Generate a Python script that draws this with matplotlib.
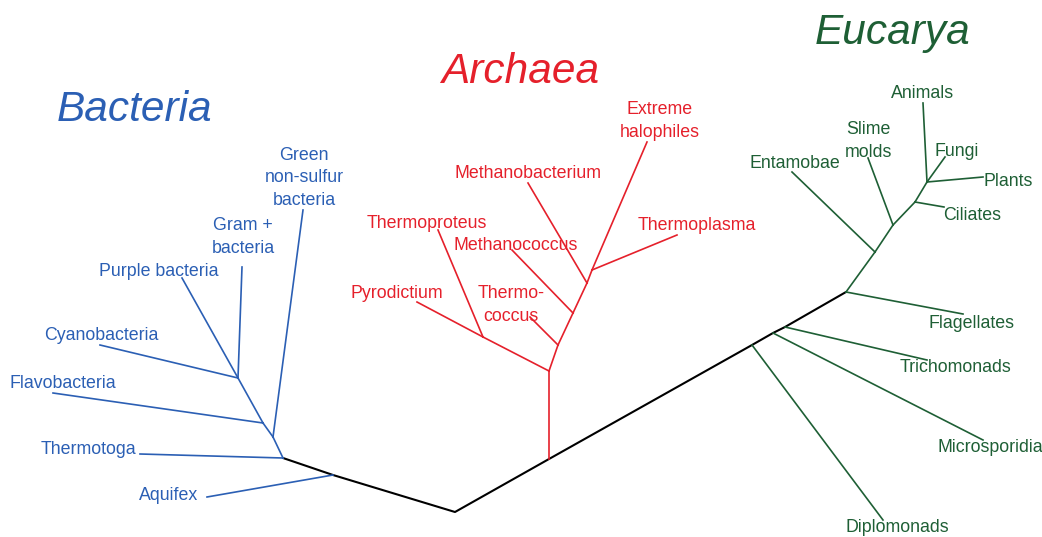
import matplotlib.pyplot as plt

BLUE = '#2b5fb4'
RED = '#e5202b'
GREEN = '#1e5f35'

# backbone (black): bacteria node -> aquifex fork -> root -> archaea node -> eucarya nodes
backbone_x = [283, 333, 455, 549, 752, 773, 785, 846]
backbone_y = [458, 475, 512, 459, 345, 333, 327, 292]

# branches: (x0, y0, x1, y1)
bacteria_edges = [
    (283, 458, 140, 454),   # Thermotoga
    (333, 475, 207, 497),   # Aquifex
    (283, 458, 273, 437),
    (273, 437, 303, 210),   # Green non-sulfur
    (273, 437, 263, 423),
    (263, 423, 53, 393),    # Flavobacteria
    (263, 423, 238, 378),
    (238, 378, 100, 345),   # Cyanobacteria
    (238, 378, 242, 267),   # Gram +
    (238, 378, 182, 278),   # Purple
]
archaea_edges = [
    (549, 459, 549, 371),
    (549, 371, 483, 337),
    (483, 337, 417, 302),   # Pyrodictium
    (483, 337, 438, 230),   # Thermoproteus
    (549, 371, 558, 345),
    (558, 345, 530, 317),   # Thermococcus
    (558, 345, 573, 313),
    (573, 313, 512, 250),   # Methanococcus
    (573, 313, 587, 283),
    (587, 283, 528, 183),   # Methanobacterium
    (587, 283, 592, 270),
    (592, 270, 677, 235),   # Thermoplasma
    (592, 270, 647, 142),   # Extreme halophiles
]
eucarya_edges = [
    (752, 345, 883, 520),   # Diplomonads
    (773, 333, 983, 440),   # Microsporidia
    (785, 327, 927, 360),   # Trichomonads
    (846, 292, 963, 314),   # Flagellates
    (846, 292, 875, 252),
    (875, 252, 792, 172),   # Entamoebae
    (875, 252, 893, 225),
    (893, 225, 868, 158),   # Slime molds
    (893, 225, 915, 202),
    (915, 202, 944, 207),   # Ciliates
    (915, 202, 927, 182),
    (927, 182, 923, 103),   # Animals
    (927, 182, 945, 157),   # Fungi
    (927, 182, 983, 177),   # Plants
]

bacteria_labels = [
    ('Thermotoga', 88, 449), ('Aquifex', 169, 496), ('Flavobacteria', 63, 383),
    ('Cyanobacteria', 101, 335), ('Purple bacteria', 159, 272),
    ('Gram +\nbacteria', 243, 237), ('Green\nnon-sulfur\nbacteria', 304, 178),
]
archaea_labels = [
    ('Pyrodictium', 397, 293), ('Thermoproteus', 427, 223), ('Thermo-\ncoccus', 511, 305),
    ('Methanococcus', 516, 245), ('Methanobacterium', 528, 173),
    ('Thermoplasma', 697, 225), ('Extreme\nhalophiles', 660, 121),
]
eucarya_labels = [
    ('Diplomonads', 897, 528), ('Microsporidia', 990, 448), ('Trichomonads', 955, 368),
    ('Flagellates', 972, 323), ('Entamobae', 795, 164), ('Slime\nmolds', 868, 141),
    ('Ciliates', 972, 216), ('Animals', 923, 94), ('Fungi', 957, 151), ('Plants', 1008, 181),
]

titles = [('Bacteria', 135, 110, BLUE), ('Archaea', 520, 72, RED), ('Eucarya', 893, 33, GREEN)]

fig = plt.figure(figsize=(10.42, 5.37), dpi=100)
ax = fig.add_axes([0, 0, 1, 1])
ax.set_xlim(0, 1042)
ax.set_ylim(537, 0)
ax.axis('off')

ax.plot(backbone_x, backbone_y, color='black', lw=1.5, solid_capstyle='round')

for edges, col in [(bacteria_edges, BLUE), (archaea_edges, RED), (eucarya_edges, GREEN)]:
  for x0, y0, x1, y1 in edges:
    ax.plot([x0, x1], [y0, y1], color=col, lw=1.2)

for labels, col in [(bacteria_labels, BLUE), (archaea_labels, RED), (eucarya_labels, GREEN)]:
  for txt, x, y in labels:
    ax.text(x, y, txt, color=col, fontsize=12.8, family='Liberation Sans',
            ha='center', va='center', linespacing=1.4)

for txt, x, y, col in titles:
  ax.text(x, y, txt, color=col, fontsize=30.5, style='italic', family='Liberation Sans',
          ha='center', va='center')

fig.savefig('out.png', dpi=100)
